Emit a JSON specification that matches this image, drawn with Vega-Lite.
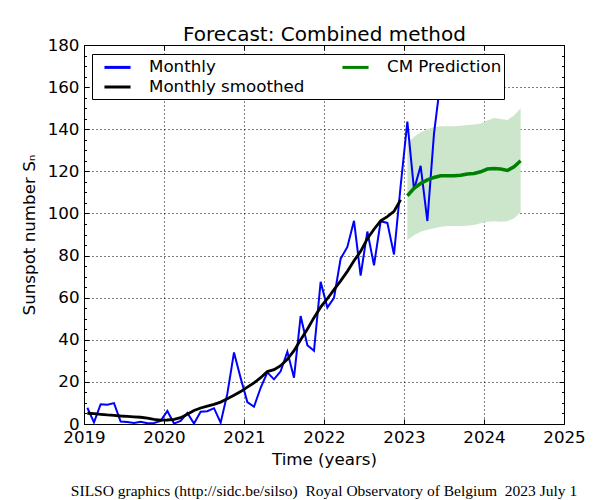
{
  "$schema": "https://vega.github.io/schema/vega-lite/v6.json",
  "width": 480,
  "height": 379,
  "autosize": {"type": "none"},
  "padding": {"left": 84, "top": 45, "right": 36, "bottom": 76},
  "background": "white",
  "view": {"stroke": "black", "strokeWidth": 1},
  "config": {"font": "DejaVu Sans"},
  "title": {
    "text": "SILSO graphics (http://sidc.be/silso)\u00a0 Royal Observatory of Belgium\u00a0 2023 July 1",
    "orient": "bottom",
    "frame": "group",
    "anchor": "middle",
    "font": "Liberation Serif",
    "fontSize": 15.5,
    "fontWeight": "normal",
    "color": "black",
    "offset": 16
  },
  "datasets": {
    "obs": [
      {"t": 2019.042, "series": "Monthly", "v": 7.7},
      {"t": 2019.125, "series": "Monthly", "v": 0.8},
      {"t": 2019.208, "series": "Monthly", "v": 9.4},
      {"t": 2019.292, "series": "Monthly", "v": 9.1},
      {"t": 2019.375, "series": "Monthly", "v": 9.9},
      {"t": 2019.458, "series": "Monthly", "v": 1.2},
      {"t": 2019.542, "series": "Monthly", "v": 0.9},
      {"t": 2019.625, "series": "Monthly", "v": 0.5},
      {"t": 2019.708, "series": "Monthly", "v": 1.1},
      {"t": 2019.792, "series": "Monthly", "v": 0.4},
      {"t": 2019.875, "series": "Monthly", "v": 0.5},
      {"t": 2019.958, "series": "Monthly", "v": 1.5},
      {"t": 2020.042, "series": "Monthly", "v": 6.2},
      {"t": 2020.125, "series": "Monthly", "v": 0.2},
      {"t": 2020.208, "series": "Monthly", "v": 1.5},
      {"t": 2020.292, "series": "Monthly", "v": 5.2},
      {"t": 2020.375, "series": "Monthly", "v": 0.2},
      {"t": 2020.458, "series": "Monthly", "v": 5.8},
      {"t": 2020.542, "series": "Monthly", "v": 6.1},
      {"t": 2020.625, "series": "Monthly", "v": 7.5},
      {"t": 2020.708, "series": "Monthly", "v": 0.6},
      {"t": 2020.792, "series": "Monthly", "v": 14.4},
      {"t": 2020.875, "series": "Monthly", "v": 34.0},
      {"t": 2020.958, "series": "Monthly", "v": 21.8},
      {"t": 2021.042, "series": "Monthly", "v": 10.4},
      {"t": 2021.125, "series": "Monthly", "v": 8.2},
      {"t": 2021.208, "series": "Monthly", "v": 17.2},
      {"t": 2021.292, "series": "Monthly", "v": 24.5},
      {"t": 2021.375, "series": "Monthly", "v": 21.2},
      {"t": 2021.458, "series": "Monthly", "v": 25.0},
      {"t": 2021.542, "series": "Monthly", "v": 34.3},
      {"t": 2021.625, "series": "Monthly", "v": 22.0},
      {"t": 2021.708, "series": "Monthly", "v": 51.3},
      {"t": 2021.792, "series": "Monthly", "v": 37.4},
      {"t": 2021.875, "series": "Monthly", "v": 34.8},
      {"t": 2021.958, "series": "Monthly", "v": 67.5},
      {"t": 2022.042, "series": "Monthly", "v": 55.3},
      {"t": 2022.125, "series": "Monthly", "v": 59.9},
      {"t": 2022.208, "series": "Monthly", "v": 78.5},
      {"t": 2022.292, "series": "Monthly", "v": 84.1},
      {"t": 2022.375, "series": "Monthly", "v": 96.5},
      {"t": 2022.458, "series": "Monthly", "v": 70.5},
      {"t": 2022.542, "series": "Monthly", "v": 91.4},
      {"t": 2022.625, "series": "Monthly", "v": 75.4},
      {"t": 2022.708, "series": "Monthly", "v": 96.3},
      {"t": 2022.792, "series": "Monthly", "v": 95.5},
      {"t": 2022.875, "series": "Monthly", "v": 80.5},
      {"t": 2022.958, "series": "Monthly", "v": 113.1},
      {"t": 2023.042, "series": "Monthly", "v": 143.6},
      {"t": 2023.125, "series": "Monthly", "v": 111.3},
      {"t": 2023.208, "series": "Monthly", "v": 122.6},
      {"t": 2023.292, "series": "Monthly", "v": 96.4},
      {"t": 2023.375, "series": "Monthly", "v": 137.9},
      {"t": 2023.458, "series": "Monthly", "v": 163.4},
      {"t": 2019.042, "series": "Monthly smoothed", "v": 5.1},
      {"t": 2019.125, "series": "Monthly smoothed", "v": 4.9},
      {"t": 2019.208, "series": "Monthly smoothed", "v": 4.6},
      {"t": 2019.292, "series": "Monthly smoothed", "v": 4.3},
      {"t": 2019.375, "series": "Monthly smoothed", "v": 4.1},
      {"t": 2019.458, "series": "Monthly smoothed", "v": 3.8},
      {"t": 2019.542, "series": "Monthly smoothed", "v": 3.6},
      {"t": 2019.625, "series": "Monthly smoothed", "v": 3.4},
      {"t": 2019.708, "series": "Monthly smoothed", "v": 3.2},
      {"t": 2019.792, "series": "Monthly smoothed", "v": 2.8},
      {"t": 2019.875, "series": "Monthly smoothed", "v": 2.2},
      {"t": 2019.958, "series": "Monthly smoothed", "v": 1.8},
      {"t": 2020.042, "series": "Monthly smoothed", "v": 1.9},
      {"t": 2020.125, "series": "Monthly smoothed", "v": 2.2},
      {"t": 2020.208, "series": "Monthly smoothed", "v": 3.0},
      {"t": 2020.292, "series": "Monthly smoothed", "v": 4.6},
      {"t": 2020.375, "series": "Monthly smoothed", "v": 6.4},
      {"t": 2020.458, "series": "Monthly smoothed", "v": 7.6},
      {"t": 2020.542, "series": "Monthly smoothed", "v": 8.5},
      {"t": 2020.625, "series": "Monthly smoothed", "v": 9.3},
      {"t": 2020.708, "series": "Monthly smoothed", "v": 10.4},
      {"t": 2020.792, "series": "Monthly smoothed", "v": 12.0},
      {"t": 2020.875, "series": "Monthly smoothed", "v": 13.7},
      {"t": 2020.958, "series": "Monthly smoothed", "v": 15.4},
      {"t": 2021.042, "series": "Monthly smoothed", "v": 17.5},
      {"t": 2021.125, "series": "Monthly smoothed", "v": 19.5},
      {"t": 2021.208, "series": "Monthly smoothed", "v": 22.0},
      {"t": 2021.292, "series": "Monthly smoothed", "v": 24.9},
      {"t": 2021.375, "series": "Monthly smoothed", "v": 25.8},
      {"t": 2021.458, "series": "Monthly smoothed", "v": 27.7},
      {"t": 2021.542, "series": "Monthly smoothed", "v": 30.7},
      {"t": 2021.625, "series": "Monthly smoothed", "v": 34.8},
      {"t": 2021.708, "series": "Monthly smoothed", "v": 40.0},
      {"t": 2021.792, "series": "Monthly smoothed", "v": 45.0},
      {"t": 2021.875, "series": "Monthly smoothed", "v": 50.5},
      {"t": 2021.958, "series": "Monthly smoothed", "v": 55.5},
      {"t": 2022.042, "series": "Monthly smoothed", "v": 59.5},
      {"t": 2022.125, "series": "Monthly smoothed", "v": 63.8},
      {"t": 2022.208, "series": "Monthly smoothed", "v": 68.0},
      {"t": 2022.292, "series": "Monthly smoothed", "v": 72.5},
      {"t": 2022.375, "series": "Monthly smoothed", "v": 77.5},
      {"t": 2022.458, "series": "Monthly smoothed", "v": 82.0},
      {"t": 2022.542, "series": "Monthly smoothed", "v": 88.0},
      {"t": 2022.625, "series": "Monthly smoothed", "v": 92.5},
      {"t": 2022.708, "series": "Monthly smoothed", "v": 96.5},
      {"t": 2022.792, "series": "Monthly smoothed", "v": 98.5},
      {"t": 2022.875, "series": "Monthly smoothed", "v": 101.0},
      {"t": 2022.958, "series": "Monthly smoothed", "v": 106.5}
    ],
    "pred": [
      {"t": 2023.042, "series": "CM Prediction", "v": 108.4, "lo": 87.4, "hi": 133.3},
      {"t": 2023.125, "series": "CM Prediction", "v": 111.9, "lo": 89.7, "hi": 136.4},
      {"t": 2023.208, "series": "CM Prediction", "v": 114.2, "lo": 91.3, "hi": 138.6},
      {"t": 2023.292, "series": "CM Prediction", "v": 115.9, "lo": 92.3, "hi": 140.0},
      {"t": 2023.375, "series": "CM Prediction", "v": 117.1, "lo": 93.0, "hi": 141.0},
      {"t": 2023.458, "series": "CM Prediction", "v": 117.9, "lo": 93.7, "hi": 141.4},
      {"t": 2023.542, "series": "CM Prediction", "v": 117.9, "lo": 94.0, "hi": 141.4},
      {"t": 2023.625, "series": "CM Prediction", "v": 117.9, "lo": 94.0, "hi": 141.4},
      {"t": 2023.708, "series": "CM Prediction", "v": 118.1, "lo": 94.0, "hi": 141.6},
      {"t": 2023.792, "series": "CM Prediction", "v": 118.7, "lo": 94.2, "hi": 142.0},
      {"t": 2023.875, "series": "CM Prediction", "v": 119.0, "lo": 94.5, "hi": 142.3},
      {"t": 2023.958, "series": "CM Prediction", "v": 119.8, "lo": 95.3, "hi": 142.7},
      {"t": 2024.042, "series": "CM Prediction", "v": 121.1, "lo": 96.0, "hi": 144.2},
      {"t": 2024.125, "series": "CM Prediction", "v": 121.4, "lo": 96.3, "hi": 145.3},
      {"t": 2024.208, "series": "CM Prediction", "v": 121.1, "lo": 96.0, "hi": 144.8},
      {"t": 2024.292, "series": "CM Prediction", "v": 120.4, "lo": 96.3, "hi": 144.4},
      {"t": 2024.375, "series": "CM Prediction", "v": 122.2, "lo": 97.7, "hi": 146.5},
      {"t": 2024.458, "series": "CM Prediction", "v": 125.0, "lo": 100.5, "hi": 150.0}
    ]
  },
  "resolve": {"axis": {"x": "independent", "y": "independent"}},
  "layer": [
    {
      "data": {"name": "pred"},
      "mark": {"type": "area", "fill": "#cce6cc", "opacity": 1},
      "encoding": {
        "x": {
          "field": "t", "type": "quantitative",
          "scale": {"domain": [2019, 2025], "nice": false, "zero": false},
          "axis": {
            "orient": "bottom",
            "values": [2019, 2020, 2021, 2022, 2023, 2024, 2025],
            "format": "d",
            "title": "Time (years)",
            "domain": false,
            "grid": true,
            "gridColor": "black",
            "gridDash": [1, 3],
            "gridWidth": 1,
            "gridOpacity": 1,
            "tickColor": "black",
            "tickSize": -5,
            "tickWidth": 1,
            "labelPadding": 10,
            "labelFontSize": 16.7,
            "labelColor": "black",
            "labelFlush": false,
            "labelOverlap": false,
            "titleFontSize": 16.7,
            "titleFontWeight": "normal",
            "titleColor": "black",
            "titlePadding": 6
          }
        },
        "y": {
          "field": "lo", "type": "quantitative",
          "scale": {"domain": [0, 180], "nice": false},
          "axis": {
            "orient": "left",
            "values": [0, 5, 10, 15, 20, 25, 30, 35, 40, 45, 50, 55, 60, 65, 70, 75, 80, 85, 90, 95, 100, 105, 110, 115, 120, 125, 130, 135, 140, 145, 150, 155, 160, 165, 170, 175, 180],
            "labelExpr": "datum.value % 20 === 0 ? datum.label : ''",
            "title": "Sunspot number S\u2099",
            "domain": false,
            "grid": true,
            "gridColor": "black",
            "gridDash": [1, 3],
            "gridWidth": 1,
            "gridOpacity": {"condition": {"test": "datum.value % 20 === 0", "value": 1}, "value": 0},
            "tickColor": "black",
            "tickSize": {"condition": {"test": "datum.value % 20 === 0", "value": -5}, "value": -2.5},
            "tickWidth": 1,
            "labelPadding": 10,
            "labelFontSize": 16.7,
            "labelColor": "black",
            "labelFlush": false,
            "labelOverlap": false,
            "titleFontSize": 16.7,
            "titleFontWeight": "normal",
            "titleColor": "black",
            "titlePadding": 9
          }
        },
        "y2": {"field": "hi"}
      }
    },
    {
      "data": {"name": "obs"},
      "transform": [{"filter": "datum.series === 'Monthly'"}],
      "mark": {"type": "line", "strokeWidth": 2},
      "encoding": {
        "x": {"field": "t", "type": "quantitative", "axis": null},
        "y": {"field": "v", "type": "quantitative", "axis": null},
        "color": {
          "field": "series", "type": "nominal",
          "scale": {"domain": ["Monthly", "Monthly smoothed", "CM Prediction"], "range": ["#0000ff", "#000000", "#008000"]},
          "legend": {
            "orient": "none", "legendX": 8, "legendY": 9,
            "columns": 2, "title": null,
            "symbolType": "M-1.45,0L1.45,0", "symbolSize": 324, "symbolStrokeWidth": 3,
            "labelFontSize": 16.7, "labelColor": "black", "labelOffset": 21, "labelLimit": 300,
            "fillColor": "white", "strokeColor": "black", "padding": 2.5,
            "columnPadding": 28, "rowPadding": -3, "symbolOffset": 12.5
          }
        }
      }
    },
    {
      "data": {"name": "obs"},
      "transform": [{"filter": "datum.series === 'Monthly smoothed'"}],
      "mark": {"type": "line", "strokeWidth": 2.8},
      "encoding": {
        "x": {"field": "t", "type": "quantitative", "axis": null},
        "y": {"field": "v", "type": "quantitative", "axis": null},
        "color": {"field": "series", "type": "nominal"}
      }
    },
    {
      "data": {"name": "pred"},
      "mark": {"type": "line", "strokeWidth": 3.5},
      "encoding": {
        "x": {
          "field": "t", "type": "quantitative",
          "axis": {
            "orient": "top",
            "values": [2019, 2020, 2021, 2022, 2023, 2024, 2025],
            "labels": false,
            "domain": false,
            "grid": false,
            "tickColor": "black",
            "tickSize": -5,
            "tickWidth": 1,
            "title": "Forecast: Combined method",
            "titleFontSize": 20,
            "titleFontWeight": "normal",
            "titleColor": "black",
            "titlePadding": 0
          }
        },
        "y": {
          "field": "v", "type": "quantitative",
          "axis": {
            "orient": "right",
            "values": [0, 5, 10, 15, 20, 25, 30, 35, 40, 45, 50, 55, 60, 65, 70, 75, 80, 85, 90, 95, 100, 105, 110, 115, 120, 125, 130, 135, 140, 145, 150, 155, 160, 165, 170, 175, 180],
            "labels": false,
            "domain": false,
            "grid": false,
            "tickColor": "black",
            "tickSize": {"condition": {"test": "datum.value % 20 === 0", "value": -5}, "value": -2.5},
            "tickWidth": 1,
            "title": null
          }
        },
        "color": {"field": "series", "type": "nominal"}
      }
    }
  ]
}
